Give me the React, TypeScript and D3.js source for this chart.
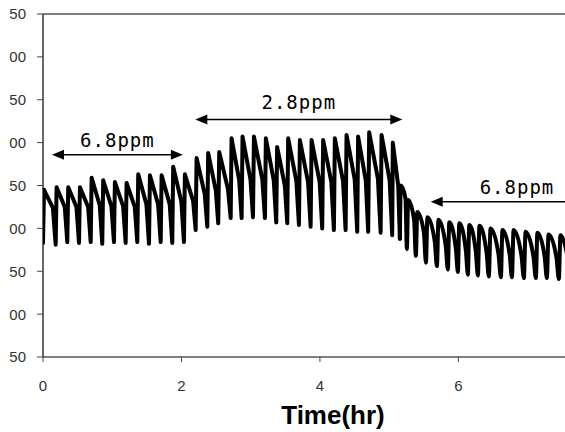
import React from "react";
import * as d3 from "d3";

// Cycle start times (hr)
const cycleTimes = [
  0.0, 0.183, 0.351, 0.52, 0.689, 0.856, 1.025, 1.194, 1.362, 1.531, 1.7, 1.867,
  2.036, 2.205, 2.373, 2.531, 2.711, 2.869, 3.033, 3.206, 3.369, 3.528, 3.697, 3.866,
  4.033, 4.202, 4.371, 4.539, 4.697, 4.877, 5.044,
  5.155, 5.256, 5.386, 5.531, 5.69, 5.848, 5.993, 6.137, 6.282, 6.44, 6.614, 6.773,
  6.946, 7.119, 7.278, 7.451,
];
const peaks = [
  245, 248, 248, 248, 259, 256, 254, 253, 263, 262, 262, 272,
  263, 282, 288, 289, 305, 307, 307, 305, 295, 305, 303, 303,
  303, 305, 309, 307, 312, 309, 300,
  250, 233, 219, 213, 210, 207, 206, 204, 203, 200, 198, 198,
  196, 195, 193, 192,
];
const plateaus = [
  224, 225, 225, 225, 227, 226, 226, 225, 228, 228, 228, 231,
  232, 240, 244, 246, 256, 257, 257, 256, 250, 255, 254, 254,
  254, 255, 257, 256, 258, 256, 250,
  235, 210, 195, 185, 180, 176, 174, 172, 171, 170, 169, 168,
  167, 167, 166, 165,
];
const troughs = [
  183, 181, 184, 183, 184, 182, 184, 183, 184, 182, 184, 183,
  184, 198, 202, 206, 212, 212, 213, 212, 207, 206, 204, 202,
  200, 198, 198, 196, 196, 195, 192,
  188, 176, 168, 160, 156, 152, 149, 146, 145, 144, 143, 143,
  142, 142, 142, 141,
];
// cycles from this index on have rounded tops
const roundedFrom = 31;

const xTicks = [0, 2, 4, 6];
const yTicks = [50, 100, 150, 200, 250, 300, 350, 400, 450];
const yTickLabels = ["50", "00", "50", "00", "50", "00", "50", "00", "50"];

const annotations = [
  { label: "6.8ppm", t0: 0.13, t1: 2.02, y: 286, labelY: 295, heads: "both" },
  { label: "2.8ppm", t0: 2.2, t1: 5.19, y: 327, labelY: 339, heads: "both" },
  { label: "6.8ppm", t0: 5.6, t1: 7.54, y: 231, labelY: 240, heads: "left" },
];

export default function App() {
  const W = 565;
  const H = 432;
  const left = 43;
  const right = 565;
  const top = 14;
  const bottom = 357;
  const x = d3.scaleLinear().domain([0, 7.54]).range([left, right]);
  const y = d3.scaleLinear().domain([50, 450]).range([bottom, top]);

  const sharpPts: [number, number][] = [];
  const roundPts: [number, number][] = [];
  cycleTimes.forEach((t, i) => {
    const P = i < cycleTimes.length - 1 ? cycleTimes[i + 1] - t : 0.166;
    const rounded = i >= roundedFrom;
    const arr = rounded ? roundPts : sharpPts;
    arr.push([t, troughs[i]]);
    if (i === roundedFrom) sharpPts.push([t, troughs[i]]);
    if (rounded) {
      arr.push([t + 0.14 * P, peaks[i]]);
      arr.push([t + 0.8 * P, plateaus[i]]);
    } else {
      arr.push([t + 0.08 * P, peaks[i]]);
      arr.push([t + 0.78 * P, plateaus[i]]);
    }
  });
  const sharpLine = d3
    .line<[number, number]>()
    .x((d) => x(d[0]))
    .y((d) => y(d[1]));
  const roundLine = d3
    .line<[number, number]>()
    .x((d) => x(d[0]))
    .y((d) => y(d[1]))
    .curve(d3.curveMonotoneX);

  const head = (px: number, py: number, dir: number) =>
    `M${px},${py} L${px - dir * 12},${py - 5} L${px - dir * 12},${py + 5} Z`;

  return (
    <svg width={W} height={H} style={{ position: "absolute", left: 0, top: 0, background: "#fff" }}>
      <defs>
        <clipPath id="plot">
          <rect x={left} y={0} width={right - left} height={bottom} />
        </clipPath>
      </defs>
      <line x1={left} x2={right} y1={top} y2={top} stroke="#000" strokeWidth={1.2} />
      <line x1={left} x2={left} y1={top} y2={bottom} stroke="#000" strokeWidth={1.2} />
      <line x1={left} x2={right} y1={bottom} y2={bottom} stroke="#000" strokeWidth={1.2} />
      {yTicks.map((v, i) => (
        <g key={"y" + v}>
          <line x1={left - 6} x2={left} y1={y(v)} y2={y(v)} stroke="#444" strokeWidth={1} />
          <text
            x={26}
            y={y(v)}
            dy="0.36em"
            textAnchor="end"
            fontFamily="Liberation Sans, Arial, sans-serif"
            fontSize={15}
            fill="#333"
          >
            {yTickLabels[i]}
          </text>
        </g>
      ))}
      {xTicks.map((v) => (
        <g key={"x" + v}>
          <line x1={x(v)} x2={x(v)} y1={bottom} y2={bottom + 5} stroke="#444" strokeWidth={1} />
          <text
            x={x(v)}
            y={391}
            textAnchor="middle"
            fontFamily="Liberation Sans, Arial, sans-serif"
            fontSize={15}
            fill="#333"
          >
            {v}
          </text>
        </g>
      ))}
      <text
        x={333}
        y={424}
        textAnchor="middle"
        fontFamily="Liberation Sans, Arial, sans-serif"
        fontWeight="bold"
        fontSize={26}
        fill="#000"
      >
        Time(hr)
      </text>
      <g clipPath="url(#plot)" fill="none" stroke="#000" strokeWidth={4} strokeLinejoin="round" strokeLinecap="round">
        <path d={sharpLine(sharpPts) || ""} />
        <path d={roundLine(roundPts) || ""} />
      </g>
      {annotations.map((a, i) => {
        const x0 = x(a.t0);
        const x1 = x(a.t1);
        const yy = y(a.y);
        return (
          <g key={"a" + i}>
            <line
              x1={x0 + 6}
              x2={a.heads === "both" ? x1 - 6 : x1}
              y1={yy}
              y2={yy}
              stroke="#000"
              strokeWidth={1.5}
            />
            <path d={head(x0, yy, -1)} fill="#000" />
            {a.heads === "both" && <path d={head(x1, yy, 1)} fill="#000" />}
            <text
              x={a.heads === "both" ? (x0 + x1) / 2 : 517}
              y={y(a.labelY)}
              textAnchor="middle"
              fontFamily="DejaVu Sans Mono, monospace"
              fontSize={19}
              letterSpacing={1}
              fill="#000"
            >
              {a.label}
            </text>
          </g>
        );
      })}
    </svg>
  );
}
